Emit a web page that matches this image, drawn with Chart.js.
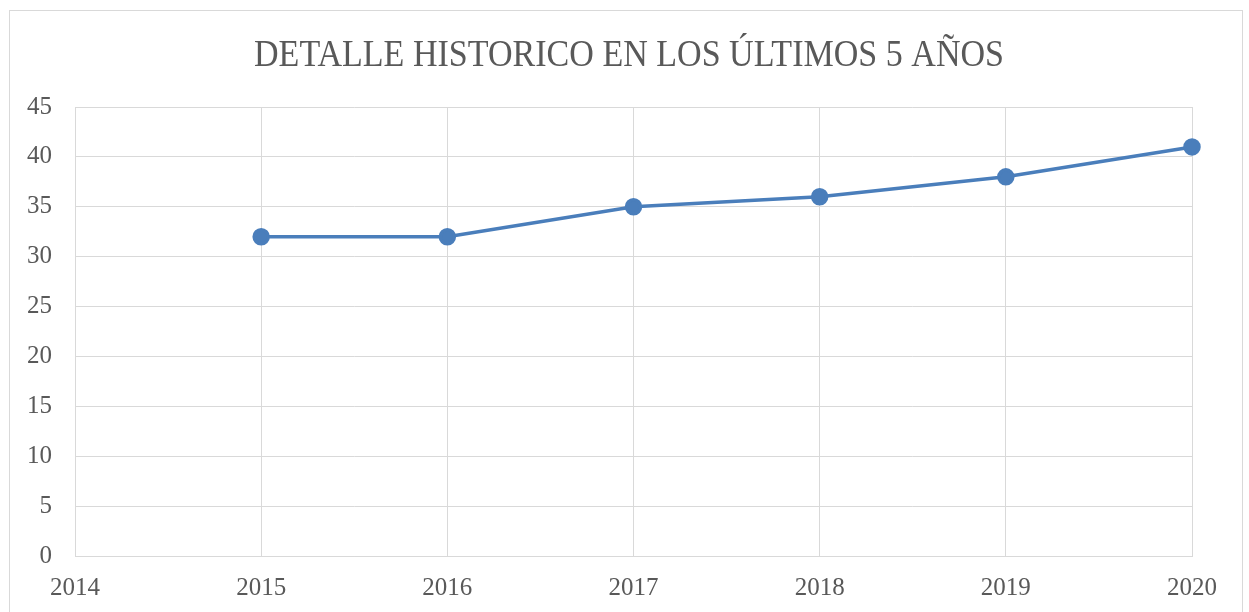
<!DOCTYPE html>
<html>
<head>
<meta charset="utf-8">
<script src="https://cdn.jsdelivr.net/npm/chart.js@4/dist/chart.umd.min.js"></script>
<style>
  html, body { margin: 0; padding: 0; background: #fff; }
  #wrap { width: 1249px; height: 612px; position: relative; }
</style>
</head>
<body>
<div id="wrap"><canvas id="chart" width="1249" height="612"></canvas></div>
<script>
const TITLE = 'DETALLE HISTORICO EN LOS ÚLTIMOS 5 AÑOS'
const years  = [2015, 2016, 2017, 2018, 2019, 2020]
const values = [32, 32, 35, 36, 38, 41]
const yTicks = [0, 5, 10, 15, 20, 25, 30, 35, 40, 45]
const xTicks = [2014, 2015, 2016, 2017, 2018, 2019, 2020]

const FONT = "'Liberation Serif', 'DejaVu Serif', serif"
const TEXT = '#595959'
const GRID = '#d9d9d9'
const BLUE = '#4a7ebb'

// frame + title; Cambria is wider-set than Times so the title is squeezed a bit
const frame = {
  id: 'frame',
  beforeDraw(chart) {
    const c = chart.ctx
    c.save()
    c.fillStyle = '#fff'
    c.fillRect(0, 0, chart.width, chart.height)
    c.strokeStyle = GRID
    c.lineWidth = 1
    c.strokeRect(9.5, 10.5, 1233, 610)

    c.font = `38px ${FONT}`
    c.fillStyle = TEXT
    c.textBaseline = 'alphabetic'
    c.textAlign = 'center'
    const w = c.measureText(TITLE).width
    const sx = 750 / w
    c.translate(629, 66)
    c.scale(sx, 1)
    c.fillText(TITLE, 0, 0)
    c.restore()
  }
}

new Chart(document.getElementById('chart').getContext('2d'), {
  type: 'line',
  data: {
    datasets: [{
      data: years.map((x, i) => ({ x, y: values[i] })),
      borderColor: BLUE,
      backgroundColor: BLUE,
      borderWidth: 3.5,
      pointRadius: 7,
      pointHoverRadius: 7,
      tension: 0,
      clip: false
    }]
  },
  plugins: [frame],
  options: {
    responsive: false,
    animation: false,
    layout: { padding: { left: 10, right: 57, top: 107, bottom: 10 } },
    plugins: {
      legend: { display: false },
      tooltip: { enabled: false },
      title: { display: false }
    },
    scales: {
      x: {
        type: 'linear',
        min: xTicks[0], max: xTicks[xTicks.length - 1],
        afterBuildTicks: s => { s.ticks = xTicks.map(v => ({ value: v })) },
        grid: { color: GRID, lineWidth: 1, drawTicks: false },
        border: { color: GRID, width: 1 },
        ticks: {
          color: TEXT, padding: 17, maxRotation: 0,
          font: { family: FONT, size: 25 },
          callback: v => String(v)
        },
        afterFit: s => { s.height = 46 }
      },
      y: {
        min: 0, max: 45,
        afterBuildTicks: s => { s.ticks = yTicks.map(v => ({ value: v })) },
        grid: { color: GRID, lineWidth: 1, drawTicks: false },
        border: { display: false },
        ticks: {
          color: TEXT, padding: 23,
          font: { family: FONT, size: 25 }
        },
        afterFit: s => { s.width = 65 }
      }
    }
  }
})
</script>
</body>
</html>
